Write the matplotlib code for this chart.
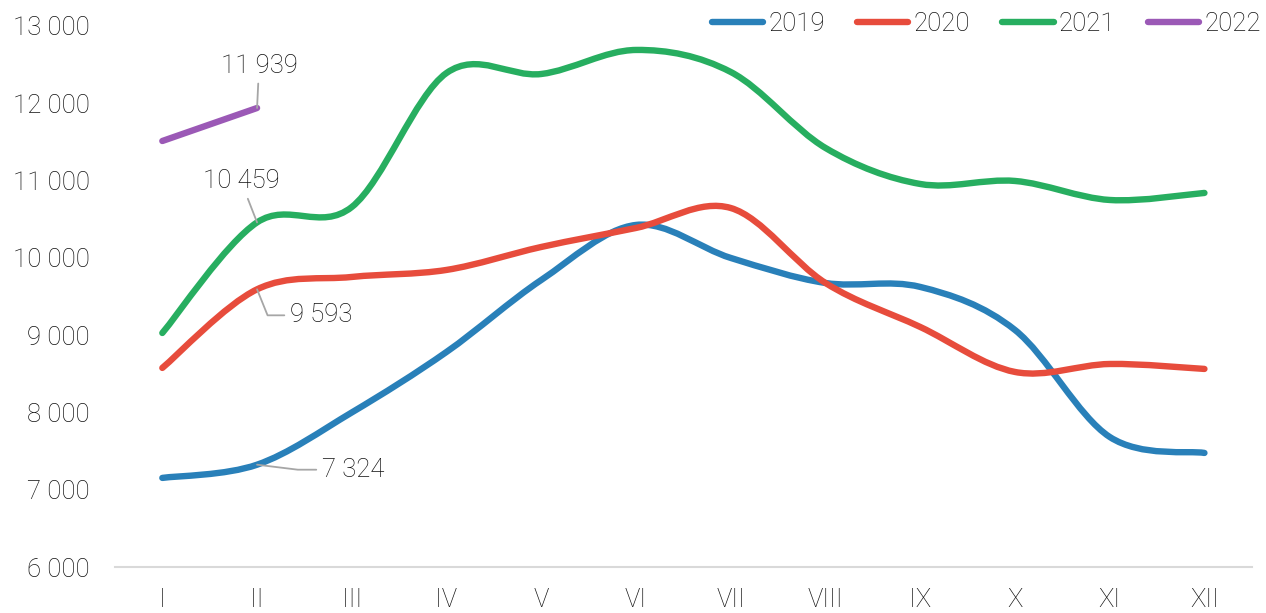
import matplotlib.pyplot as plt
from matplotlib.path import Path
from matplotlib.patches import PathPatch
from matplotlib.lines import Line2D

plt.rcParams['font.family'] = ['Roboto', 'DejaVu Sans']

months = ['I', 'II', 'III', 'IV', 'V', 'VI', 'VII', 'VIII', 'IX', 'X', 'XI', 'XII']
y2019 = [7153, 7324, 8000, 8783, 9714, 10426, 9999, 9675, 9624, 9067, 7683, 7476]
y2020 = [8576, 9593, 9753, 9844, 10141, 10387, 10645, 9675, 9106, 8524, 8627, 8563]
y2021 = [9028, 10459, 10658, 12392, 12379, 12690, 12405, 11422, 10956, 10995, 10749, 10840]
y2022 = [11512, 11939]

series = [('2019', y2019, '#2980B9'),
          ('2020', y2020, '#E74C3C'),
          ('2021', y2021, '#27AE60'),
          ('2022', y2022, '#9B59B6')]

FS = 18.5
TXT = '#111111'


def smooth_path(ys):
    # excel-like smoothed line: cubic bezier through every point
    xs = list(range(len(ys)))
    pts = list(zip(xs, ys))
    verts = [pts[0]]
    codes = [Path.MOVETO]
    n = len(pts)
    for i in range(n - 1):
        p0 = pts[i - 1] if i > 0 else pts[i]
        p1 = pts[i]
        p2 = pts[i + 1]
        p3 = pts[i + 2] if i + 2 < n else pts[i + 1]
        c1 = (p1[0] + (p2[0] - p0[0]) / 6, p1[1] + (p2[1] - p0[1]) / 6)
        c2 = (p2[0] - (p3[0] - p1[0]) / 6, p2[1] - (p3[1] - p1[1]) / 6)
        verts += [c1, c2, p2]
        codes += [Path.CURVE4] * 3
    return Path(verts, codes)


fig = plt.figure(figsize=(12.66, 6.13), dpi=100)
ax = fig.add_axes([0.0908, 0.075, 0.898, 0.8826])

handles = []
for name, ys, col in series:
    patch = PathPatch(smooth_path(ys), facecolor='none', edgecolor=col, lw=4.6,
                      capstyle='round', joinstyle='round')
    ax.add_patch(patch)
    handles.append(Line2D([], [], color=col, lw=4.6, solid_capstyle='round', label=name))

ax.set_xlim(-0.5, 11.5)
ax.set_ylim(6000, 13000)
ax.set_xticks(range(12))
ax.set_xticklabels(months)
ax.set_yticks(range(6000, 13001, 1000))
ax.set_yticklabels([f'{v:,}'.replace(',', ' ') for v in range(6000, 13001, 1000)])
ax.tick_params(length=0, labelsize=FS, labelcolor=TXT)
ax.tick_params(axis='y', pad=18)
ax.tick_params(axis='x', pad=15)
for lab in ax.get_xticklabels() + ax.get_yticklabels():
    lab.set_fontweight('light')
for s in ['top', 'right', 'left']:
    ax.spines[s].set_visible(False)
ax.spines['bottom'].set_color('#d9d9d9')
ax.spines['bottom'].set_linewidth(1.5)

# data labels with leader lines
lab_style = dict(textcoords='offset pixels', fontsize=FS, color=TXT,
                 fontweight='light', ha='center', va='center')
arrow = dict(arrowstyle='-', color='#a6a6a6', lw=1.3, shrinkB=0)
ax.annotate('11 939', xy=(1, y2022[1]), xytext=(2, 42), arrowprops=arrow, **lab_style)
ax.annotate('10 459', xy=(1, y2021[1]), xytext=(-16, 41), arrowprops=arrow, **lab_style)
ax.annotate('9 593', xy=(1, y2020[1]), xytext=(64, -26),
            arrowprops=dict(arrow, connectionstyle='angle,angleA=0,angleB=-68,rad=0'),
            **lab_style)
ax.annotate('7 324', xy=(1, y2019[1]), xytext=(96, -5),
            arrowprops=dict(arrow, connectionstyle='angle,angleA=0,angleB=-7,rad=0'),
            **lab_style)

leg = ax.legend(handles=handles, loc='upper right', bbox_to_anchor=(1.028, 1.068),
                ncol=4, frameon=False, fontsize=FS, handlelength=2.0,
                handletextpad=0.2, columnspacing=1.25)
for t in leg.get_texts():
    t.set_color(TXT)
    t.set_fontweight('light')

fig.savefig('out.png', dpi=100)
